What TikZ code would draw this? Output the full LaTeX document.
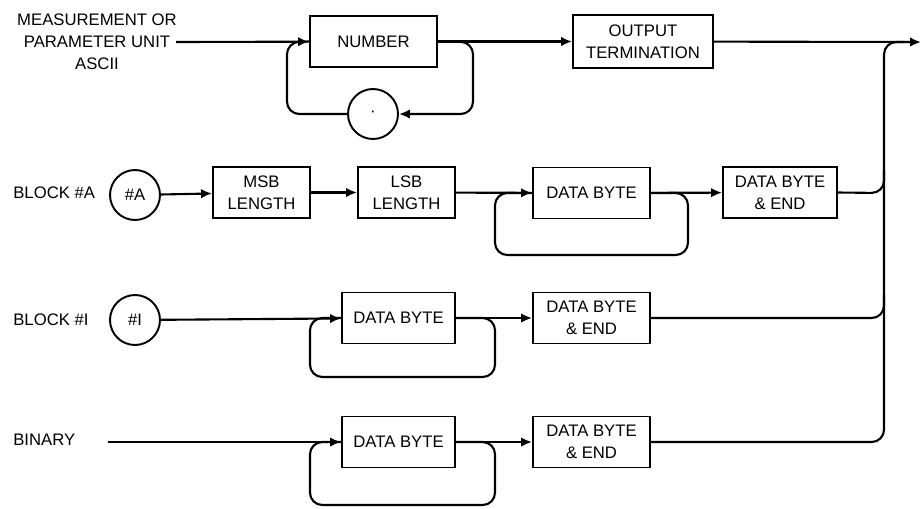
\documentclass[tikz,border=0pt]{standalone}
\usepackage{fontspec}
\setmainfont{Liberation Sans}
\usetikzlibrary{arrows.meta,positioning}

\begin{document}
\begin{tikzpicture}[
  x=0.02cm, y=-0.02cm,
  font=\fontsize{9.5}{12.5}\selectfont,
  blk/.style={draw, line width=1.1pt, minimum height=1.02cm, inner sep=1pt, align=center},
  ring/.style={draw, circle, line width=1.1pt, minimum size=1cm, inner sep=0pt},
  wire/.style={line width=1.2pt, rounded corners=7pt},
  flow/.style={wire, -{Latex[length=2.2mm, width=1.9mm]}},
  tag/.style={inner sep=0pt, align=center}
]
\useasboundingbox (0,0) rectangle (922,508);

% entry labels
\node[tag] (meas) at (97,42) {\fontsize{9.5}{15}\selectfont MEASUREMENT OR\\PARAMETER UNIT\\ASCII};
\node[tag, anchor=west] (lblA) at (13,193) {BLOCK \#A};
\node[tag, anchor=west] (lblI) at (13,320) {BLOCK \#I};
\node[tag, anchor=west] (lblB) at (13,440) {BINARY};
\coordinate (measin) at (176,42);
\coordinate (binin) at (108,442);
\coordinate (outend) at (921,42);

% ascii row
\node[blk, minimum width=2.54cm] (num) at (373.5,41.5) {NUMBER};
\node[ring] (dot) at (373,114) {·};
\node[blk, minimum width=2.8cm, minimum height=1.06cm] (outterm) at (643,41.5) {OUTPUT\\TERMINATION};

% block #A row
\node[ring] (ringA) at (135,195) {\#A};
\node[blk, minimum width=1.94cm] (msb) at (261.5,192.5) {MSB\\LENGTH};
\node[blk, minimum width=1.94cm] (lsb) at (406.5,192.5) {LSB\\LENGTH};
\node[blk, minimum width=2.34cm] (byteA) at (591.5,193) {DATA BYTE};
\node[blk, minimum width=2.28cm] (endA) at (780,192.5) {DATA BYTE\\\& END};

% block #I row
\node[ring] (ringI) at (135,320) {\#I};
\node[blk, minimum width=2.26cm] (byteI) at (398.5,318) {DATA BYTE};
\node[blk, minimum width=2.34cm] (endI) at (591.5,318) {DATA BYTE\\\& END};

% binary row
\node[blk, minimum width=2.26cm] (byteB) at (398.5,442) {DATA BYTE};
\node[blk, minimum width=2.34cm] (endB) at (591.5,442) {DATA BYTE\\\& END};

% ascii connectors
\draw[flow] (measin) -- (num);
\draw[flow] (num) -- (outterm);
\draw[flow] (num.east) -- (473,42) -- (473,114) -- (dot.east);
\draw[wire] (dot.west) -- (287,114) -- (287,42) -- (num.west);
\draw[flow] (outterm) -- (outend);

% block #A connectors
\draw[flow] (ringA) -- (msb);
\draw[flow] (msb) -- (lsb);
\draw[flow] (lsb) -- (byteA);
\draw[flow] (byteA) -- (endA);
\draw[wire] (byteA.east) -- (688,193) -- (688,255) -- (495,255) -- (495,193) -- (byteA.west);

% block #I connectors
\draw[flow] (ringI) -- (byteI);
\draw[flow] (byteI) -- (endI);
\draw[wire] (byteI.east) -- (495,318) -- (495,377) -- (310,377) -- (310,318) -- (byteI.west);

% binary connectors
\draw[flow] (binin) -- (byteB);
\draw[flow] (byteB) -- (endB);
\draw[wire] (byteB.east) -- (495,442) -- (495,505) -- (310,505) -- (310,442) -- (byteB.west);

% output bus
\draw[wire] (endB.east) -- (884,442) -- (884,42) -- (905,42);
\draw[wire] (endI.east) -- (884,318) -- (884,295);
\draw[wire] (endA.east) -- (884,193) -- (884,170);
\end{tikzpicture}
\end{document}
